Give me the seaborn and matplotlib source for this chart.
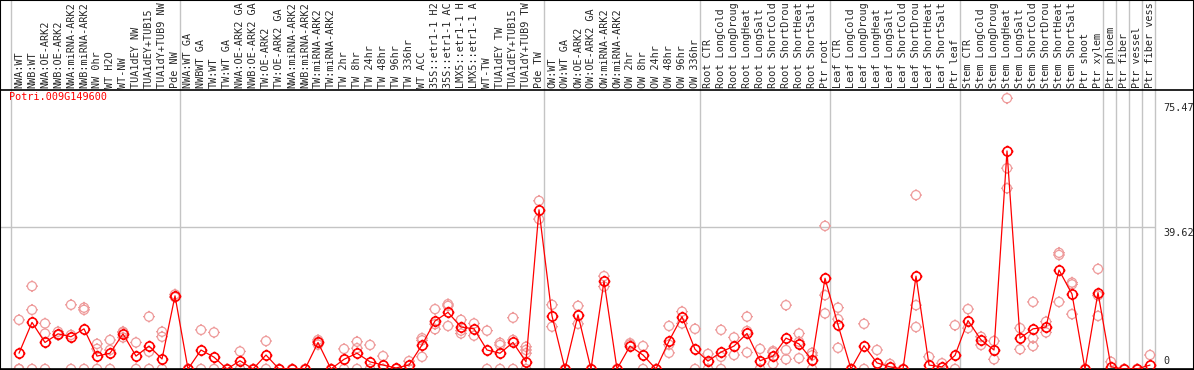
import numpy as np
import pandas as pd
import matplotlib
matplotlib.use("Agg")
import matplotlib.pyplot as plt
import matplotlib.path as mpath
import seaborn as sns

# --- data ------------------------------------------------------------------
gene = "Potri.009G149600"

labels_nw = ["NWA:WT", "NWB:WT", "NWA:OE-ARK2", "NWB:OE-ARK2", "NWA:miRNA-ARK2",
             "NWB:miRNA-ARK2", "NW 0hr", "WT H2O", "WT-NW", "TUA1dEY NW",
             "TUA1dEY+TUB15", "TUA1dY+TUB9 NW", "Pde NW"]
labels_tw = ["NWA:WT GA", "NWBWT GA", "TW:WT", "TW:WT GA", "NWA:OE-ARK2 GA",
             "NWB:OE-ARK2 GA", "TW:OE-ARK2", "TW:OE-ARK2 GA", "NWA:miRNA-ARK2",
             "NWB:miRNA-ARK2", "TW:miRNA-ARK2", "TW:miRNA-ARK2", "TW 2hr", "TW 8hr",
             "TW 24hr", "TW 48hr", "TW 96hr", "TW 336hr", "WT ACC", "35S::etr1-1 H2",
             "35S::etr1-1 AC", "LMX5::etr1-1 H", "LMX5::etr1-1 A", "WT-TW",
             "TUA1dEY TW", "TUA1dEY+TUB15", "TUA1dY+TUB9 TW", "Pde TW"]
labels_ow = ["OW:WT", "OW:WT GA", "OW:OE-ARK2", "OW:OE-ARK2 GA", "OW:miRNA-ARK2",
             "OW:miRNA-ARK2", "OW 2hr", "OW 8hr", "OW 24hr", "OW 48hr", "OW 96hr",
             "OW 336hr"]
stress = ["CTR", "LongCold", "LongDroug", "LongHeat", "LongSalt",
          "ShortCold", "ShortDrou", "ShortHeat", "ShortSalt"]
labels_root = ["Root " + s for s in stress] + ["Ptr root"]
labels_leaf = ["Leaf " + s for s in stress] + ["Ptr leaf"]
labels_stem = ["Stem " + s for s in stress] + ["Ptr shoot", "Ptr xylem"]
labels_wood = ["Ptr phloem", "Ptr fiber", "Ptr vessel", "Ptr fiber vess"]

groups = [labels_nw, labels_tw, labels_ow, labels_root, labels_leaf, labels_stem,
          labels_wood[:1], labels_wood[1:2], labels_wood[2:3], labels_wood[3:]]
labels = [lab for g in groups for lab in g]

means = [4.4, 13.0, 7.4, 9.8, 9.0, 11.2, 3.6, 4.4, 9.8, 3.6, 6.4, 2.8, 20.4,
         0, 5.3, 3.3, 0, 2.3, 0, 3.9, 0, 0, 0, 7.4, 0, 2.7, 4.4, 2.0, 1.1, 0.3,
         1.1, 6.7, 13.4, 15.8, 11.7, 11.2, 5.3, 4.4, 7.4, 2.0, 44.4,
         14.8, 0, 15.1, 0, 24.5, 0, 6.4, 3.9, 0, 7.8, 14.6, 5.5,
         2.2, 4.7, 6.4, 9.9, 2.3, 3.6, 8.6, 7.0, 2.5, 25.3,
         12.3, 0, 6.5, 1.7, 0.6, 0, 25.9, 1.1, 0.6, 3.8,
         13.5, 8.1, 5.3, 60.8, 8.6, 11.2, 11.7, 27.6, 20.9, 0, 21.3,
         0.6, 0, 0, 1.1]

reps = [[13.7, 0, 0], [23.1, 16.5, 0], [12.7, 9.9, 0], [10.4, 9.5, 9.5], [17.9, 9.5, 0],
        [17.1, 16.5, 0], [7.0, 5.6, 0], [8.1, 5.3, 0], [10.4, 10.2, 8.8], [7.4, 0],
        [14.6, 4.8, 0], [10.4, 9.0, 0], [20.8, 20.0],
        [0, 0], [10.9, 0], [10.2, 0], [0], [4.9, 0], [0], [7.8, 0], [0], [0], [0],
        [8.1, 7.6, 6.8], [0], [5.6, 0], [7.6, 5.8, 0], [6.7, 0], [3.6, 0], [0],
        [2.2, 0], [8.6, 8.0, 3.4], [16.7, 11.1, 12.5], [18.1, 17.6, 12.0],
        [13.7, 10.7, 9.9], [12.7, 9.3], [10.7, 0], [7.3, 6.7, 0], [14.3, 8.1, 0],
        [6.2, 5.3, 4.4, 0], [46.9, 41.8],
        [17.9, 11.8], [0], [17.6, 12.6], [0], [25.9, 23.0], [0], [7.2, 6.8],
        [6.4, 0], [0], [12.0, 4.5, 6.8], [16.0, 12.7], [11.2, 0],
        [4.2, 0], [10.9, 3.4, 0], [8.8, 3.9], [14.6, 10.6, 4.6], [5.6, 0],
        [5.0, 4.6, 1.4], [17.8, 5.3, 2.7], [9.9, 7.6, 3.0], [4.5, 3.8, 0],
        [39.9, 20.6, 15.5],
        [17.1, 13.9, 5.9], [0], [12.6, 0], [5.3], [1.4], [0], [48.5, 17.8, 11.7],
        [3.4], [1.6], [12.2, 0],
        [16.7, 11.4], [9.0, 6.7], [7.8, 2.7], [75.5, 56.0, 50.4], [11.4, 5.5],
        [18.7, 8.6, 6.4], [13.2, 10.2], [32.4, 31.8, 18.7], [24.1, 23.6, 15.3],
        [0], [27.9, 20.5, 14.8],
        [2.0], [0], [0], [3.9]]

y_marks = [75.47, 39.62, 0]

# --- tidy frames -------------------------------------------------------------
mean_df = pd.DataFrame({"pos": np.arange(len(means)), "value": means})
rep_df = pd.DataFrame([(i, v) for i, vals in enumerate(reps) for v in vals],
                      columns=["pos", "value"])

# circle with four little ticks (eFP style marker)
M, L = mpath.Path.MOVETO, mpath.Path.LINETO
ticks = mpath.Path([(1, 0), (1.3, 0), (-1, 0), (-1.3, 0),
                    (0, 1), (0, 1.3), (0, -1), (0, -1.3)], [M, L] * 4)
tick_marker = mpath.Path.make_compound_path(mpath.Path.unit_circle(), ticks)

sns.set_theme(style="white")
mono = "DejaVu Sans Mono"
fs = 7.3

W, H = 1194, 370
fig = plt.figure(figsize=(W / 100, H / 100), dpi=100)
ax = fig.add_axes([0, 1 / H, 1, 279 / H])
ax.set_xlim(-19 / 13, (W - 19) / 13)
ax.set_ylim(0, 77.8)

# group separators and grid
bounds = np.cumsum([0] + [len(g) for g in groups])
for b in bounds:
    ax.axvline(b - 8 / 13, 0, 369 / 279, color="#c4c4c4", lw=1.0, clip_on=False, zorder=0)
ax.hlines(39.62, -19 / 13, bounds[-1] - 8 / 13, color="#c4c4c4", lw=1.0, zorder=0)

sns.scatterplot(data=rep_df, x="pos", y="value", marker=tick_marker, s=72,
                facecolor="none", edgecolor="#ee9a9a", linewidth=0.9, ax=ax, zorder=2)
sns.lineplot(data=mean_df, x="pos", y="value", color="red", lw=0.9,
             marker=tick_marker, markersize=8.5, markerfacecolor="none",
             markeredgecolor="red", markeredgewidth=1.2, ax=ax, zorder=3)

# column labels
for i, lab in enumerate(labels):
    ax.annotate(lab, xy=(i, 1), xycoords=("data", "axes fraction"), xytext=(0, 1.5),
                textcoords="offset points", rotation=90, ha="center", va="bottom",
                fontsize=fs, family=mono, annotation_clip=False)

# value labels on the right
offsets = {75.47: (-3, "top"), 39.62: (-1, "top"), 0: (2, "bottom")}
for v in y_marks:
    dy, va = offsets[v]
    ax.annotate(f"{v:g}", xy=(88.0, v), xytext=(0, dy), textcoords="offset points",
                ha="left", va=va, fontsize=fs, family=mono)

fig.text(9 / W, 1 - 92 / H, gene, color="red", fontsize=fs, family=mono,
         ha="left", va="top")

ax.set_xticks([])
ax.set_yticks([])
ax.set_xlabel("")
ax.set_ylabel("")
for sp in ax.spines.values():
    sp.set_color("black")
    sp.set_linewidth(1.2)

fig.add_artist(plt.Rectangle((0, 0), 1, 1, transform=fig.transFigure, fill=False,
                             ec="black", lw=1.5))

fig.savefig("out.png", dpi=100)
